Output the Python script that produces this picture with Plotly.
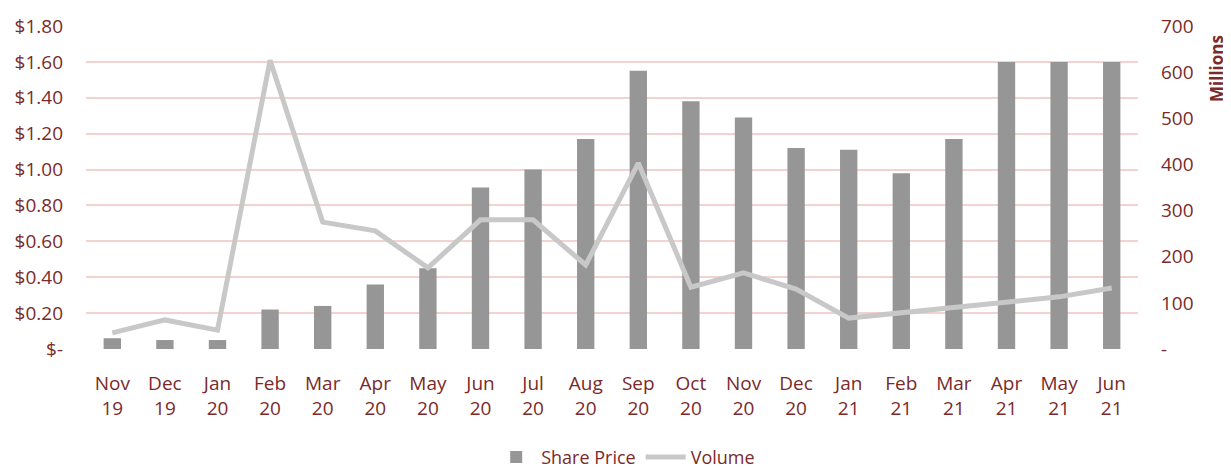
import plotly.graph_objects as go

months = ["Nov<br>19", "Dec<br>19", "Jan<br>20", "Feb<br>20", "Mar<br>20", "Apr<br>20", "May<br>20",
          "Jun<br>20", "Jul<br>20", "Aug<br>20", "Sep<br>20", "Oct<br>20", "Nov<br>20", "Dec<br>20",
          "Jan<br>21", "Feb<br>21", "Mar<br>21", "Apr<br>21", "May<br>21", "Jun<br>21"]
share_price = [0.06, 0.05, 0.05, 0.22, 0.24, 0.36, 0.45, 0.90, 1.00, 1.17, 1.55, 1.38, 1.29, 1.12,
               1.11, 0.98, 1.17, 1.60, 1.60, 1.60]
volume = [35, 63, 41, 626, 275, 256, 176, 280, 280, 182, 403, 134, 165, 130, 67, 78, 91, 100, 113, 132]

left_vals = [0, 0.2, 0.4, 0.6, 0.8, 1.0, 1.2, 1.4, 1.6, 1.8]
left_text = ["$-", "$0.20", "$0.40", "$0.60", "$0.80", "$1.00", "$1.20", "$1.40", "$1.60", "$1.80"]
right_vals = [0, 100, 200, 300, 400, 500, 600, 700]
right_text = ["-", "100", "200", "300", "400", "500", "600", "700"]

txt = "#7B2A2A"
font_family = "Open Sans, Noto Sans, sans-serif"

fig = go.Figure()
fig.add_trace(go.Bar(x=months, y=share_price, name="Share Price", marker=dict(color="#969696", line=dict(width=0)),
                     yaxis="y"))
fig.add_trace(go.Scatter(x=months, y=volume, name="Volume", mode="lines",
                         line=dict(color="#C8C8C8", width=5), yaxis="y2"))

# page body has an 8px margin, so the figure is sized 8px smaller than the window
fig.update_layout(
    width=1223, height=460,
    margin=dict(l=78, r=93, t=18, b=119, autoexpand=False),
    paper_bgcolor="white", plot_bgcolor="white",
    font=dict(family=font_family, color=txt, size=19),
    bargap=0.67,
    showlegend=True,
    legend=dict(orientation="h", x=0.513, xanchor="center", y=-0.335, yanchor="middle",
                font=dict(size=18, color=txt), itemwidth=40, tracegroupgap=0),
    xaxis=dict(showgrid=False, showline=False, ticks="", tickfont=dict(size=19, color=txt),
               ticklabelstandoff=21),
    yaxis=dict(range=[0, 1.8], tickvals=left_vals, ticktext=left_text, showgrid=True,
               gridcolor="#F3D2D0", gridwidth=2, zeroline=False, showline=False,
               tickfont=dict(size=19, color=txt), ticks="", ticklabelstandoff=22),
    yaxis2=dict(range=[0, 700], tickvals=right_vals, ticktext=right_text, overlaying="y", side="right",
                showgrid=False, zeroline=False, showline=False, tickfont=dict(size=19, color=txt),
                ticklabelstandoff=22),
    annotations=[dict(text="<b>Millions</b>", textangle=-90, xref="paper", yref="paper",
                      x=1.0745, y=0.978, xanchor="center", yanchor="top", showarrow=False,
                      font=dict(size=17, color=txt))],
)

fig.write_html("out.html")
